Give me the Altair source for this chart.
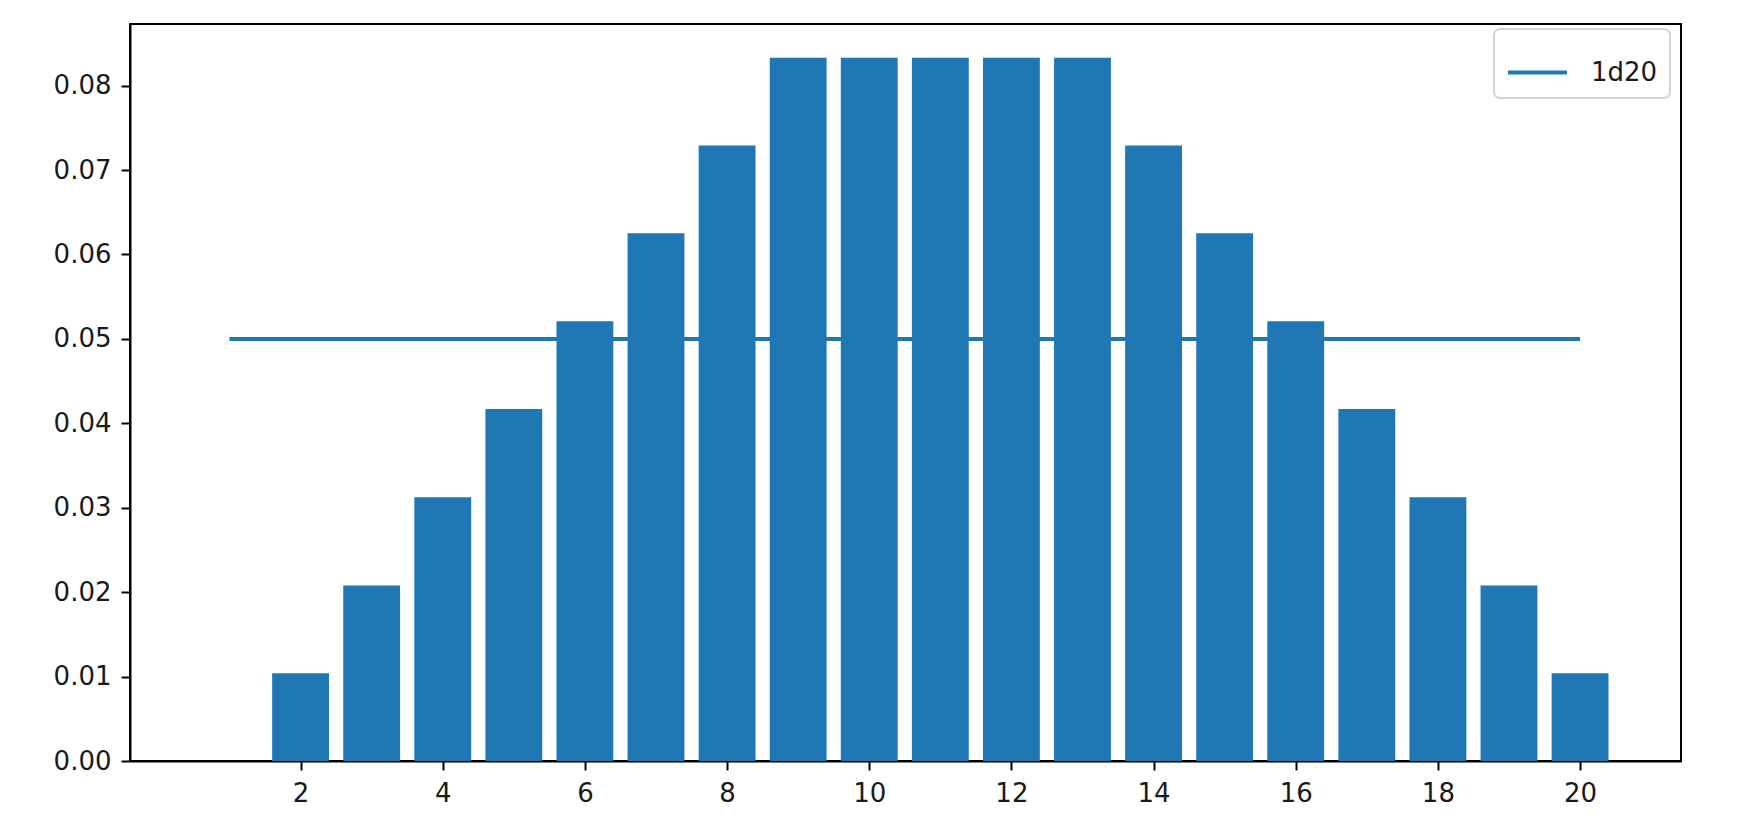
import altair as alt
import pandas as pd

# Bar data: sum outcomes and probabilities
outcomes = [2, 3, 4, 5, 6, 7, 8, 9, 10, 11, 12, 13, 14, 15, 16, 17, 18, 19, 20]
probs = [0.0104, 0.0208, 0.03125, 0.0417, 0.0521, 0.0625, 0.0729, 0.0833,
         0.0833, 0.0833, 0.0833, 0.0833, 0.0729, 0.0625, 0.0521, 0.0417,
         0.03125, 0.0208, 0.0104]

# Reference line (1d20)
line_x = [1, 20]
line_y = [0.05, 0.05]
line_name = ["1d20", "1d20"]

x_ticks = [2, 4, 6, 8, 10, 12, 14, 16, 18, 20]
y_ticks = [0.0, 0.01, 0.02, 0.03, 0.04, 0.05, 0.06, 0.07, 0.08]

BLUE = "#1f77b4"
FONT = "DejaVu Sans"
FS = 26
TXT = "#1a1a1a"

bars_df = pd.DataFrame({"n": outcomes, "p": probs})
line_df = pd.DataFrame({"x": line_x, "y": line_y, "series": line_name})

xscale = alt.Scale(domain=[-0.4, 21.42], nice=False, zero=False)
yscale = alt.Scale(domain=[0, 0.0873], nice=False)

xaxis = alt.Axis(values=x_ticks, format="d", title=None, grid=False,
                 tickSize=9, tickWidth=2, tickColor="black",
                 domainColor="black", domainWidth=2,
                 labelFont=FONT, labelFontSize=FS, labelColor=TXT,
                 labelPadding=10, labelFlush=False)
yaxis = alt.Axis(values=y_ticks, format=".2f", title=None, grid=False,
                 tickSize=9, tickWidth=2, tickColor="black",
                 domainColor="black", domainWidth=2,
                 labelFont=FONT, labelFontSize=FS, labelColor=TXT,
                 labelPadding=10, labelFlush=False)

bars = alt.Chart(bars_df).transform_calculate(
    x0="datum.n - 0.4", x1="datum.n + 0.4"
).mark_rect(color=BLUE).encode(
    x=alt.X("x0:Q", scale=xscale, axis=xaxis),
    x2="x1:Q",
    y=alt.Y("p:Q", scale=yscale, axis=yaxis),
    y2=alt.datum(0),
)

line = alt.Chart(line_df).mark_line(strokeWidth=4).encode(
    x=alt.X("x:Q", scale=xscale),
    y=alt.Y("y:Q", scale=yscale),
    color=alt.Color(
        "series:N",
        scale=alt.Scale(domain=["1d20"], range=[BLUE]),
        legend=alt.Legend(
            title=None, orient="none", legendX=1364, legendY=5,
            symbolType="stroke", symbolSize=3481, symbolStrokeWidth=4,
            labelFont=FONT, labelFontSize=FS, labelColor=TXT,
            labelOffset=22, padding=12, fillColor="white",
            strokeColor="#d4d4d4", cornerRadius=6,
        ),
    ),
)

chart = alt.layer(bars, line).properties(
    width=1551, height=737,
    autosize=alt.AutoSizeParams(type="none"),
    padding={"left": 130, "top": 24, "right": 67, "bottom": 71},
    background="white",
).configure_view(stroke="black", strokeWidth=2).configure_legend(
    strokeWidth=2
)

chart.save("out.html", embed_options={"renderer": "svg", "actions": False})
